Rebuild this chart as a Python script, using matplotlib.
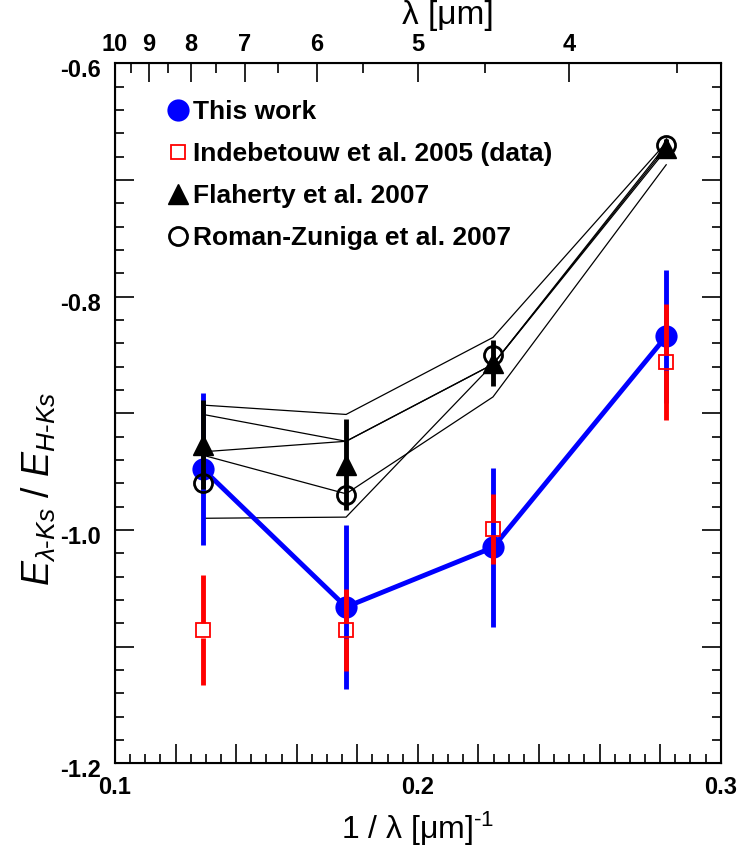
import numpy as np
import matplotlib.pyplot as plt
import matplotlib.transforms as mtransforms
from matplotlib.lines import Line2D
from matplotlib.ticker import MultipleLocator, FuncFormatter

plt.rcParams['font.family'] = ['Liberation Sans', 'DejaVu Sans']
plt.rcParams['mathtext.fontset'] = 'custom'
plt.rcParams['mathtext.rm'] = 'Liberation Sans'
plt.rcParams['mathtext.it'] = 'Liberation Sans:italic'
plt.rcParams['axes.unicode_minus'] = False

# 数据 (1/lambda, 四个 IRAC 波段)
inv_lam = np.array([0.1291, 0.1763, 0.2248, 0.2820])

this_y = np.array([-0.948, -1.066, -1.015, -0.834])
this_err = np.array([0.065, 0.070, 0.068, 0.057])

ind_y = np.array([-1.086, -1.086, -0.999, -0.856])
ind_err = np.array([0.047, 0.035, 0.030, 0.050])

fla_y = np.array([-0.927, -0.944, -0.857, -0.673])
fla_err = np.array([0.038, 0.039, 0.020, 0.008])

rz_y = np.array([-0.960, -0.970, -0.850, -0.670])

# Flaherty 各云的细线
cloud_a = [-0.893, -0.901, -0.835, -0.668]
cloud_b = [-0.901, -0.924, -0.858, -0.672]
cloud_c = [-0.933, -0.924, -0.858, -0.674]
cloud_d = [-0.936, -0.969, -0.886, -0.687]
cloud_e = [-0.990, -0.989, -0.858, -0.670]

lam_major = [10, 9, 8, 7, 6, 5, 4]
lam_minor = [9.5, 8.5, 7.5, 6.5, 5.5, 4.5, 3.5]

fig = plt.figure(figsize=(7.47, 8.56), dpi=100)
ax = fig.add_axes([0.154, 0.1083, 0.8108, 0.8178])

for c in [cloud_a, cloud_b, cloud_c, cloud_d, cloud_e]:
    ax.plot(inv_lam, c, color='black', lw=0.9, zorder=2)

# this work
ax.plot(inv_lam, this_y, color='blue', lw=3.5, zorder=3)
ax.errorbar(inv_lam, this_y, yerr=this_err, fmt='o', color='blue', ms=16, mew=0,
            elinewidth=3.5, capsize=0, zorder=3)

# Indebetouw: 误差棒在方框处断开
gap = 0.0065
ax.vlines(inv_lam, ind_y + gap, ind_y + ind_err, color='red', lw=3.5, zorder=4)
ax.vlines(inv_lam, ind_y - ind_err, ind_y - gap, color='red', lw=3.5, zorder=4)
ax.plot(inv_lam, ind_y, 's', mfc='none', mec='red', ms=10.5, mew=1.3, zorder=4)

# Flaherty / Roman-Zuniga
ax.errorbar(inv_lam, fla_y, yerr=fla_err, fmt='^', color='black', ms=15,
            elinewidth=3.5, capsize=0, zorder=5)
ax.plot(inv_lam, rz_y, 'o', mfc='none', mec='black', ms=13, mew=2, zorder=5)

ax.set_xlim(0.1, 0.3)
ax.set_ylim(-1.2, -0.6)

ax.xaxis.set_major_locator(MultipleLocator(0.02))
ax.xaxis.set_minor_locator(MultipleLocator(0.005))
ax.xaxis.set_major_formatter(FuncFormatter(
    lambda v, p: f'{v:.1f}' if abs(v * 10 - round(v * 10)) < 1e-6 else ''))
ax.yaxis.set_major_locator(MultipleLocator(0.1))
ax.yaxis.set_minor_locator(MultipleLocator(0.02))
ax.yaxis.set_major_formatter(FuncFormatter(
    lambda v, p: f'{v:.1f}' if abs(v * 5 - round(v * 5)) < 1e-6 else ''))

ax.tick_params(which='both', direction='in', top=False, right=True, width=1.2)
ax.tick_params(which='major', length=13.5, labelsize=17)
ax.tick_params(axis='x', which='major', pad=9)
ax.tick_params(axis='y', which='major', pad=10)
ax.tick_params(which='minor', length=6.5)
shift = mtransforms.ScaledTranslation(0, -5 / 100, fig.dpi_scale_trans)
for lbl in ax.get_xticklabels():
    lbl.set_fontweight('bold')
for lbl in ax.get_yticklabels():
    lbl.set_fontweight('bold')
    lbl.set_transform(lbl.get_transform() + shift)
for s in ax.spines.values():
    s.set_linewidth(1.5)

ax.set_xlabel('1 / λ [μm]$^{\u2010 1}$', fontsize=23, va='center')
ax.xaxis.set_label_coords(0.5, -0.093)
ax.set_ylabel('$E_{\\lambda\u2010Ks}$ / $E_{H\u2010Ks}$', fontsize=27, va='center')
ax.yaxis.set_label_coords(-0.125, 0.392)

# 上方波长坐标
ax2 = ax.twiny()
ax2.set_xlim(ax.get_xlim())
ax2.set_xticks([1 / l for l in lam_major])
ax2.set_xticklabels([str(l) for l in lam_major], fontweight='bold')
ax2.set_xticks([1 / l for l in lam_minor], minor=True)
ax2.tick_params(which='both', direction='in', width=1.2)
ax2.tick_params(which='major', length=14, labelsize=17, pad=5)
ax2.tick_params(which='minor', length=7)
ax2.set_xlabel('λ [μm]', fontsize=24, va='center')
ax2.xaxis.set_label_coords(0.55, 1.068)

handles = [
    Line2D([], [], ls='none', marker='o', color='blue', ms=16, mew=0),
    Line2D([], [], ls='none', marker='s', mfc='none', mec='red', ms=10.5, mew=1.3),
    Line2D([], [], ls='none', marker='^', color='black', ms=15),
    Line2D([], [], ls='none', marker='o', mfc='none', mec='black', ms=13, mew=2),
]
labels = ['This work', 'Indebetouw et al. 2005 (data)', 'Flaherty et al. 2007',
          'Roman-Zuniga et al. 2007']
ax.legend(handles, labels, loc='upper left', bbox_to_anchor=(0.062, 0.966),
          frameon=False, prop={'size': 19, 'weight': 'bold'},
          handlelength=0.9, handletextpad=0.14, labelspacing=0.68, borderpad=0)

fig.savefig('out.png', dpi=100)
